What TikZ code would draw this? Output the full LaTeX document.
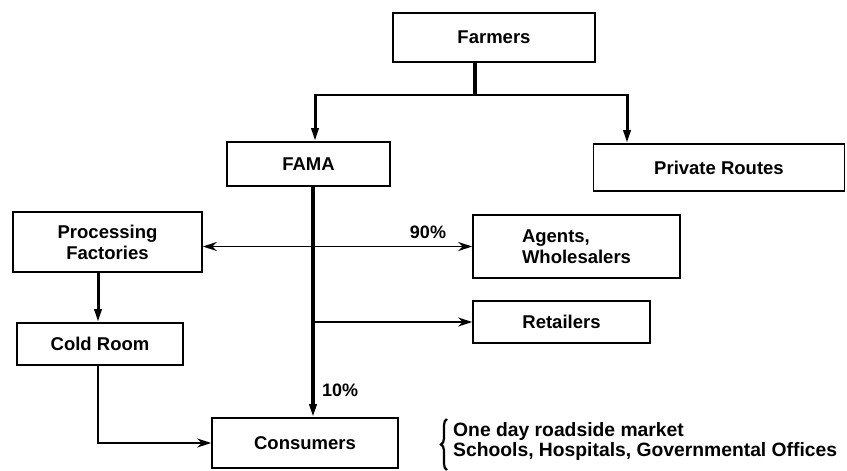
\documentclass[tikz,border=0pt]{standalone}
\usepackage{fontspec}
\setmainfont{Liberation Sans}
\usetikzlibrary{arrows.meta,decorations.pathreplacing}
\begin{document}
\begin{tikzpicture}[x=1pt,y=-1pt,
  box/.style={draw, line width=1.6pt, rectangle, inner sep=0pt,
    font=\fontsize{18.5}{21}\selectfont\bfseries},
  lbl/.style={inner sep=0pt, font=\fontsize{18}{20}\selectfont\bfseries},
  note/.style={inner sep=0pt, anchor=west, font=\fontsize{19.3}{21}\selectfont\bfseries},
  heavyline/.style={line width=3.5pt},
  lightline/.style={line width=1.3pt},
  downtip/.style={-{Triangle[length=13pt,width=7pt]}},
  sidetip/.style={-{Stealth[length=14pt,width=9pt]}},
  bothtips/.style={{Stealth[length=14pt,width=9pt]}-{Stealth[length=14pt,width=9pt]}}
]
\useasboundingbox (0,0) rectangle (847,471);

% boxes
\node[box, minimum width=202pt, minimum height=49pt] (farmers) at (494,37.5) {Farmers};
\node[box, minimum width=163pt, minimum height=44pt] (fama) at (308.5,164) {FAMA};
\node[box, minimum width=251pt, minimum height=47pt] (pr) at (719,167.5) {Private Routes};
\node[box, minimum width=189pt, minimum height=60pt, align=center] (proc) at (107.5,242) {Processing\\Factories};
\node[box, minimum width=207pt, minimum height=63pt, align=left] (agents) at (576.5,246.5) {Agents,\\Wholesalers};
\node[box, minimum width=177pt, minimum height=42pt] (retail) at (561.5,322) {Retailers};
\node[box, minimum width=166pt, minimum height=42pt] (cold) at (100,344) {Cold Room};
\node[box, minimum width=186pt, minimum height=50pt] (cons) at (305,443) {Consumers};

% junction coordinates
\coordinate (j) at (475,95);
\coordinate (jl) at (315,95);
\coordinate (jr) at (627,95);
\coordinate (fx) at (313,0);
\coordinate (cx) at (98,0);

% Farmers to FAMA / Private Routes
\draw[heavyline] (farmers.south -| j) -- (j);
\draw[lightline] ([xshift=-1.5pt]jl) -- ([xshift=1.5pt]jr);
\draw[line width=3pt, downtip] (jl) -- (jl |- fama.north);
\draw[line width=3pt, downtip] (jr) -- (jr |- pr.north);

% FAMA trunk to Consumers
\draw[heavyline, downtip] (fama.south -| fx) -- (cons.north -| fx);
\node[lbl, anchor=west] (p10) at (322,390) {10\%};

% Processing <-> Agents
\draw[lightline, bothtips] (agents.west -| proc.east) -- (agents.west);
\node[lbl] (p90) at (428,232) {90\%};

% to Retailers
\draw[lightline, sidetip] (retail.west -| fx) -- (retail.west);

% Processing -> Cold Room
\draw[line width=3pt, downtip] (proc.south -| cx) -- (cold.north -| cx);

% Cold Room -> Consumers
\draw[line width=2.2pt, sidetip] (cold.south -| cx) |- (cons.west);

% brace and notes
\coordinate (bb) at (447,470);
\coordinate (bt) at (447,419);
\draw[line width=2.2pt, decorate, decoration={brace, amplitude=6pt}] (bb) -- (bt);
\node[note] (n1) at (453,432) {One day roadside market};
\node[note] (n2) at (453,452) {Schools, Hospitals, Governmental Offices};
\end{tikzpicture}
\end{document}
